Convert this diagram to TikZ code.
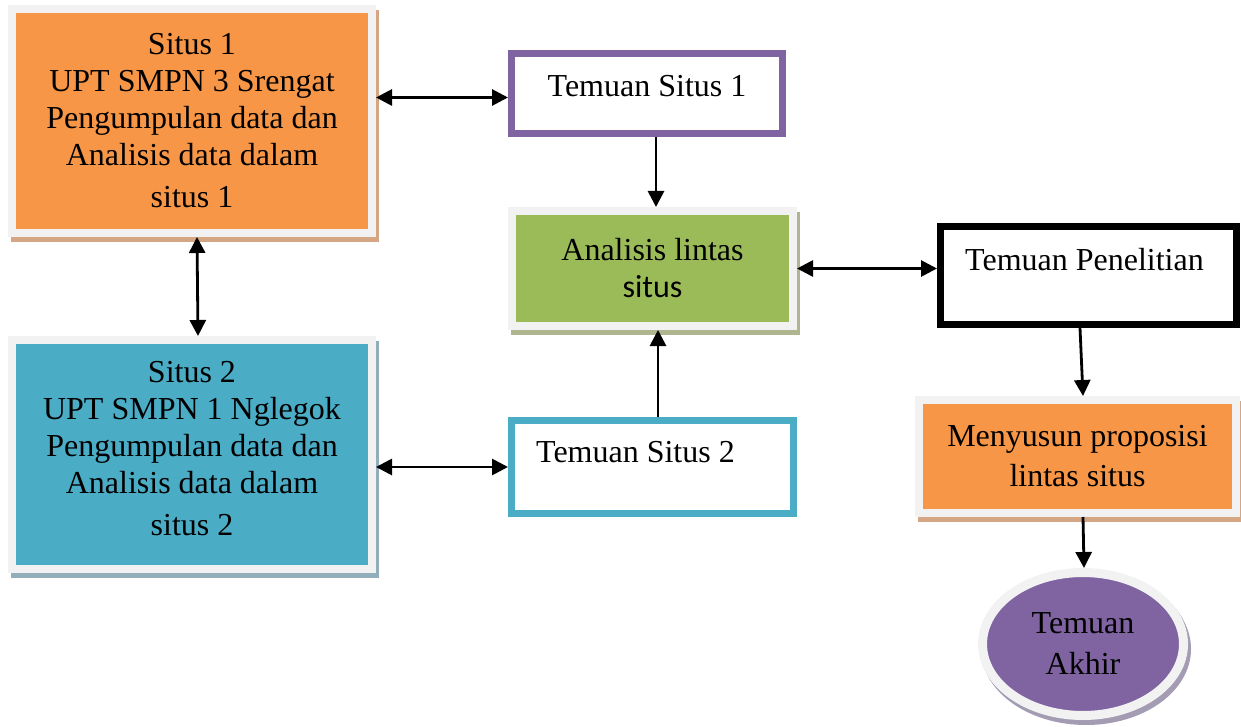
\documentclass[tikz,border=0pt]{standalone}
\usepackage{fontspec}
\setmainfont{Liberation Serif}
\newfontfamily\carlito{Carlito}
\usetikzlibrary{arrows.meta,shapes.geometric,shadows}

\definecolor{orangebox}{HTML}{F79646}
\definecolor{bluebox}{HTML}{4BACC6}
\definecolor{greenbox}{HTML}{9BBB59}
\definecolor{purplebox}{HTML}{8064A2}
\definecolor{framegray}{HTML}{F2F2F2}
\definecolor{orangeshade}{HTML}{D4A683}
\definecolor{blueshade}{HTML}{93AEBB}
\definecolor{greenshade}{HTML}{AEB58F}
\definecolor{purpleshade}{HTML}{A39CB3}

\begin{document}
\begin{tikzpicture}[x=1pt,y=-1pt,
  font=\fontsize{32}{37}\selectfont,
  panel/.style={draw=framegray, line width=8pt, inner sep=0pt, align=center,
    drop shadow={shadow xshift=3pt, shadow yshift=-5pt, opacity=1, fill=#1, draw=#1}},
  result/.style={draw=#1, line width=7pt, fill=white, inner sep=0pt},
  link/.style={line width=2.8pt, -{Triangle[length=16pt,width=16pt]}},
  both/.style={link, {Triangle[length=16pt,width=16pt]}-{Triangle[length=16pt,width=16pt]}}]

  \useasboundingbox (0,0) rectangle (1241,727);

  % sites
  \node[panel=orangeshade, fill=orangebox, minimum width=360pt, minimum height=224pt]
    (situs1) at (192,121) {Situs 1\\UPT SMPN 3 Srengat\\Pengumpulan data dan\\Analisis data dalam\\[5pt]situs 1};
  \node[panel=blueshade, fill=bluebox, minimum width=360pt, minimum height=229pt]
    (situs2) at (192,454.5) {Situs 2\\UPT SMPN 1 Nglegok\\Pengumpulan data dan\\Analisis data dalam\\[5pt]situs 2\\[-25pt]};

  % findings per site
  \node[result=purplebox, minimum width=271pt, minimum height=80pt,
    label={[yshift=7pt]center:Temuan Situs 1}] (ts1) at (647,93.5) {};
  \node[result=bluebox, minimum width=282pt, minimum height=93pt,
    label={[xshift=-17pt,yshift=15pt]center:Temuan Situs 2}] (ts2) at (652.5,467) {};

  % cross-site
  \node[panel=greenshade, fill=greenbox, minimum width=281pt, minimum height=115pt]
    (lintas) at (652.5,268.5) {Analisis lintas\\{\carlito situs}};
  \node[result=black, minimum width=296pt, minimum height=98pt,
    label={[xshift=-4pt,yshift=16pt]center:Temuan Penelitian}] (temuan) at (1088.5,275.5) {};
  \node[panel=orangeshade, fill=orangebox, minimum width=317pt, minimum height=113pt]
    (proposisi) at (1077.5,456.5) {Menyusun proposisi\\[3pt]lintas situs};
  \node[panel=purpleshade, fill=purplebox, ellipse, line width=9pt,
    drop shadow={shadow xshift=2pt, shadow yshift=-3pt, opacity=1, fill=purpleshade, draw=purpleshade},
    minimum width=201pt, minimum height=143pt]
    (akhir) at (1083,644) {Temuan\\[4pt]Akhir};

  % arrows
  \draw[both] ([yshift=-4pt]situs1.east |- ts1.west) -- ([yshift=-4pt]ts1.west);
  \draw[both] ([xshift=5pt]situs1.south) -- ([xshift=6pt]situs2.north);
  \draw[both] (situs2.east |- ts2.west) -- (ts2.west);
  \draw[link] ([xshift=9pt]ts1.south) -- ([xshift=3.5pt]lintas.north);
  \draw[link] ([xshift=5.5pt]ts2.north) -- ([xshift=5.5pt]lintas.south);
  \draw[both] (lintas.east) -- (lintas.east -| temuan.west);
  \draw[link] ([xshift=-8.5pt]temuan.south) -- ([xshift=5.5pt]proposisi.north);
  \draw[link] ([xshift=5.5pt]proposisi.south) -- ([xshift=1pt]akhir.north);

\end{tikzpicture}
\end{document}
